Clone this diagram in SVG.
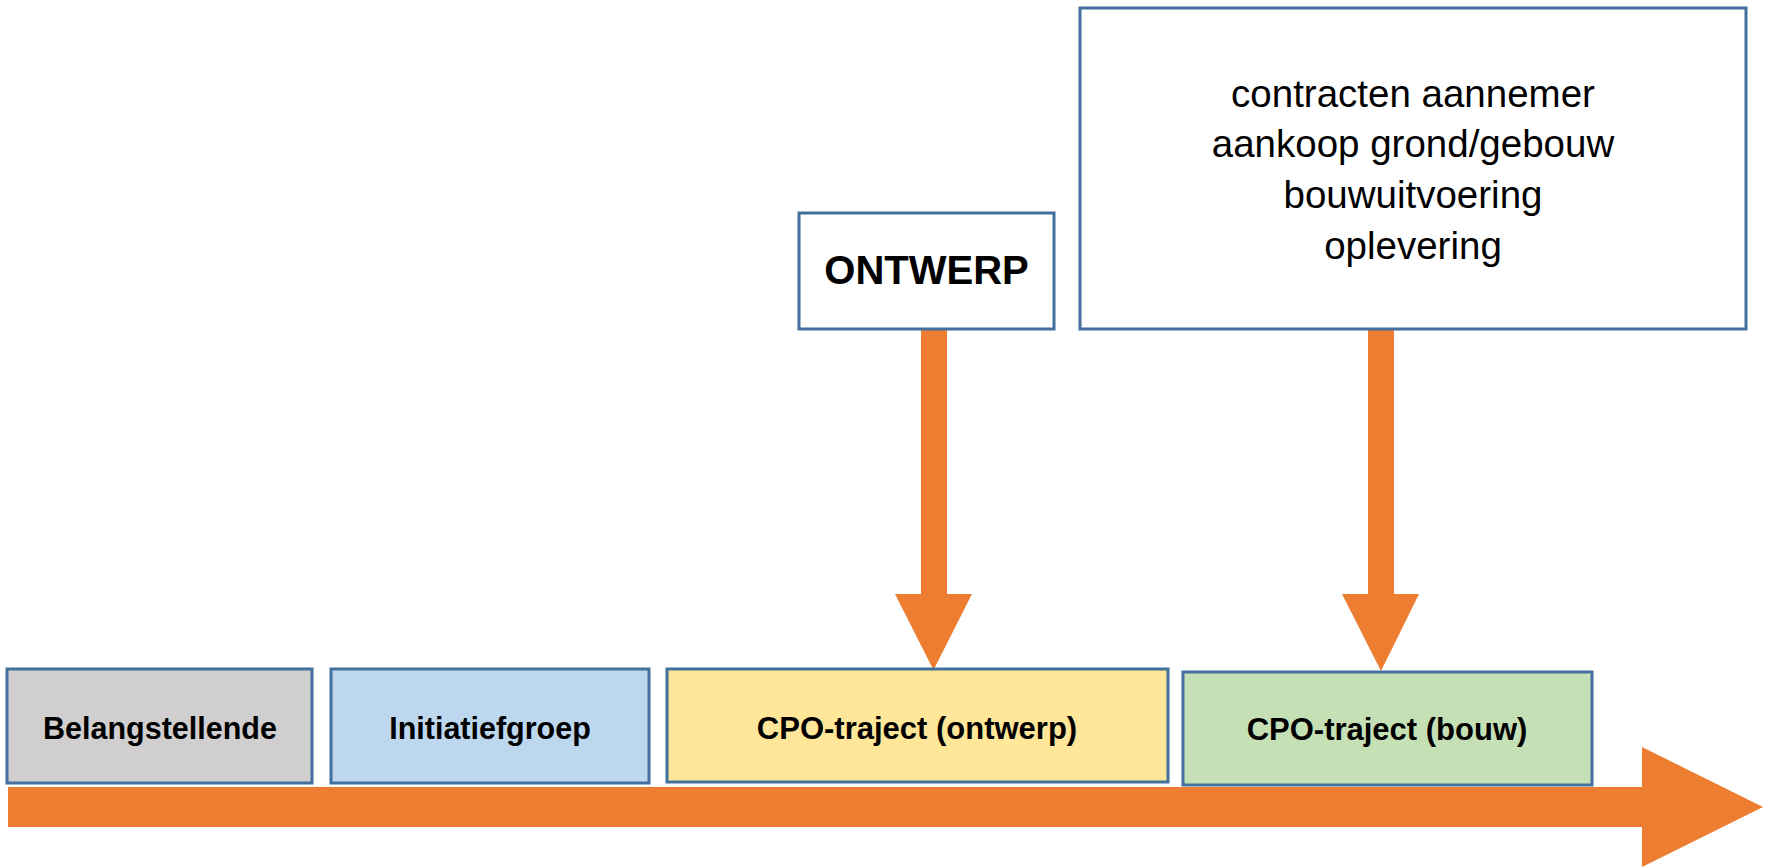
<svg xmlns="http://www.w3.org/2000/svg" width="1765" height="867" viewBox="0 0 1765 867">
<style>
.box{stroke:#41719C;stroke-width:3}
.lbl{font-family:"Liberation Sans",Arial,sans-serif;font-weight:bold;fill:#000;text-anchor:middle}
.txt{font-family:"Liberation Sans",Arial,sans-serif;fill:#000;text-anchor:middle;font-size:38.5px}
.arr{fill:#ED7D31}
</style>
<rect width="1765" height="867" fill="#fff"/>
<g id="timeline">
<polygon class="arr" points="8,787 1642,787 1642,747 1763,807 1642,867 1642,827 8,827"/>
</g>
<g id="connectors">
<polygon class="arr" points="921,329 947,329 947,594 972,594 933.5,670 895,594 921,594"/>
<polygon class="arr" points="1368,329 1394,329 1394,594 1419,594 1381,671 1342,594 1368,594"/>
</g>
<g id="belangstellende">
<rect class="box" x="7" y="669" width="305" height="114" fill="#D0CECE"/>
<text class="lbl" x="160" y="739" font-size="30.5">Belangstellende</text>
</g>
<g id="initiatiefgroep">
<rect class="box" x="331" y="669" width="318" height="114" fill="#BDD7EE"/>
<text class="lbl" x="490" y="739" font-size="30.5">Initiatiefgroep</text>
</g>
<g id="cpo-ontwerp">
<rect class="box" x="667" y="669" width="501" height="113" fill="#FFE699"/>
<text class="lbl" x="917" y="739" font-size="31">CPO-traject (ontwerp)</text>
</g>
<g id="cpo-bouw">
<rect class="box" x="1183" y="672" width="409" height="113" fill="#C5E0B4"/>
<text class="lbl" x="1387" y="740" font-size="31">CPO-traject (bouw)</text>
</g>
<g id="ontwerp">
<rect class="box" x="799" y="213" width="255" height="116" fill="#fff"/>
<text class="lbl" x="926.5" y="284" font-size="40">ONTWERP</text>
</g>
<g id="bouw-taken">
<rect class="box" x="1080" y="8" width="666" height="321" fill="#fff"/>
<text class="txt" x="1413" y="107">contracten aannemer</text>
<text class="txt" x="1413" y="157">aankoop grond/gebouw</text>
<text class="txt" x="1413" y="208">bouwuitvoering</text>
<text class="txt" x="1413" y="259">oplevering</text>
</g>
</svg>
